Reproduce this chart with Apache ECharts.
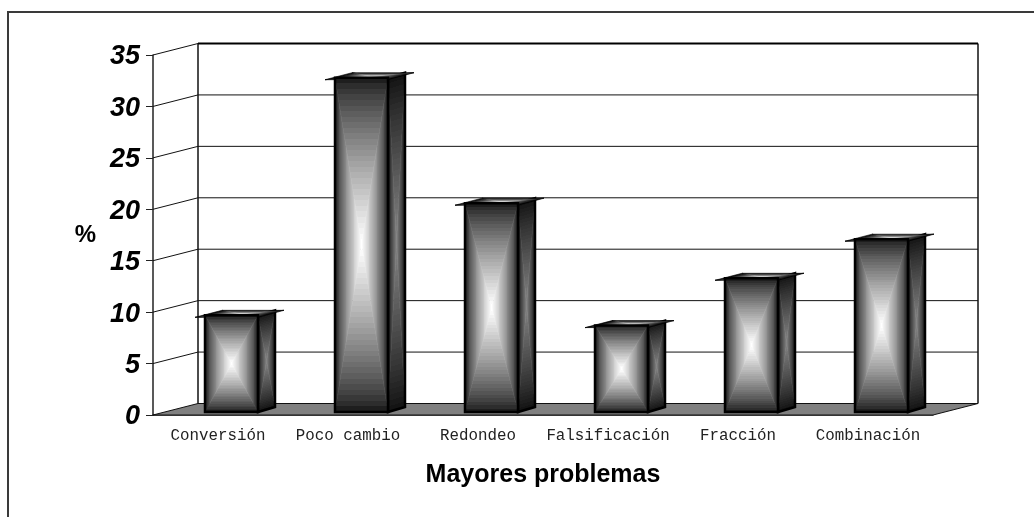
<!DOCTYPE html>
<html>
<head>
<meta charset="utf-8">
<style>html,body{margin:0;padding:0;background:#fff}#c{width:1034px;height:517px}</style>
<script src="https://cdn.jsdelivr.net/npm/echarts@6/dist/echarts.min.js"></script>
</head>
<body>
<div id="c"></div>
<script>
// Survey results: share of respondents per reported problem
const categories = ['Conversión', 'Poco cambio', 'Redondeo', 'Falsificación', 'Fracción', 'Combinación'];
const percentages = [9.4, 32.5, 20.3, 8.4, 13, 16.8];
const yTicks = [0, 5, 10, 15, 20, 25, 30, 35];

// Oblique projection of the 3D box
const wallDx = 45, wallDy = -11.5;
const barWidth = 53, barShift = 13.5, barLift = 3;
const sideDx = 17, sideDy = -5;

// Banded gradient from an edge colour to a centre colour
function banded(x1, y1, x2, y2, edge, centre, gamma) {
  const steps = 30, stops = [];
  for (let i = 0; i < steps; i++) {
    const t = i / (steps - 1);
    const v = Math.round(edge + (centre - edge) * Math.pow(t, gamma));
    const c = 'rgb(' + v + ',' + v + ',' + v + ')';
    stops.push({ offset: i / steps, color: c }, { offset: (i + 1) / steps, color: c });
  }
  return new echarts.graphic.LinearGradient(x1, y1, x2, y2, stops, true);
}

// Fill a quad with four triangles shading from each edge to the centre.
// The gradient runs along the normal of the edge, so its bands stay
// parallel to that edge on skewed faces too.
function gatherQuad(pts, edge, centre, gamma) {
  const cx = (pts[0][0] + pts[1][0] + pts[2][0] + pts[3][0]) / 4;
  const cy = (pts[0][1] + pts[1][1] + pts[2][1] + pts[3][1]) / 4;
  const out = [];
  for (let i = 0; i < 4; i++) {
    const a = pts[i], b = pts[(i + 1) % 4];
    const ex = b[0] - a[0], ey = b[1] - a[1];
    const k = ((cx - a[0]) * ex + (cy - a[1]) * ey) / (ex * ex + ey * ey);
    const g = banded(a[0] + ex * k, a[1] + ey * k, cx, cy, edge, centre, gamma);
    out.push({
      type: 'polygon',
      shape: { points: [a, b, [cx, cy]] },
      style: { fill: g, stroke: g, lineWidth: 0.6 }
    });
  }
  return out;
}

function renderWall(params, api) {
  const box = params.coordSys;
  const y = api.coord([0, api.value(1)])[1];
  const x0 = box.x, x1 = box.x + box.width;
  const tick = api.value(1);
  const children = [];
  if (tick === 0) {
    children.push({
      type: 'polygon',
      shape: { points: [[x0, y], [x1, y], [x1 + wallDx, y + wallDy], [x0 + wallDx, y + wallDy]] },
      style: { fill: '#808080', stroke: '#111', lineWidth: 1 }
    });
    children.push({
      type: 'line',
      shape: { x1: x0 + wallDx, y1: y + wallDy, x2: x0 + wallDx, y2: box.y + wallDy },
      style: { stroke: '#111', lineWidth: 1.5 }
    });
    children.push({
      type: 'line',
      shape: { x1: x1 + wallDx, y1: y + wallDy, x2: x1 + wallDx, y2: box.y + wallDy },
      style: { stroke: '#111', lineWidth: 1.5 }
    });
  } else {
    children.push({
      type: 'polyline',
      shape: { points: [[x0, y], [x0 + wallDx, y + wallDy], [x1 + wallDx, y + wallDy]] },
      style: { fill: 'none', stroke: '#111', lineWidth: 1 }
    });
    if (tick === yTicks[yTicks.length - 1]) {
      children.push({
        type: 'line',
        shape: { x1: x0 + wallDx, y1: y + wallDy, x2: x1 + wallDx, y2: y + wallDy },
        style: { stroke: '#000', lineWidth: 2 }
      });
    }
  }
  return { type: 'group', children };
}

function renderBar(params, api) {
  const i = api.value(0);
  const centre = api.coord([i, 0])[0] + barShift;
  const base = api.coord([i, 0])[1] - barLift;
  const top = api.coord([i, api.value(1)])[1] - barLift;
  const l = centre - barWidth / 2, r = centre + barWidth / 2;

  const front = [[l, top], [r, top], [r, base], [l, base]];
  const side = [[r, top], [r + sideDx, top + sideDy], [r + sideDx, base + sideDy], [r, base]];
  const cap = [[l - 10, top + 2], [r, top + 2], [r + 26, top - 5], [l + 17, top - 5]];

  const outline = { fill: 'none', stroke: '#000', lineWidth: 2.5, lineJoin: 'miter' };
  const children = []
    .concat(gatherQuad(side, 20, 130, 0.9))
    .concat([{ type: 'polygon', shape: { points: side }, style: outline }])
    .concat(gatherQuad(cap, 0, 215, 1))
    .concat(gatherQuad(front, 30, 255, 0.8))
    .concat([{ type: 'polygon', shape: { points: front }, style: outline }]);
  return { type: 'group', children };
}

const chart = echarts.init(document.getElementById('c'), null, { renderer: 'canvas' });
chart.setOption({
  animation: false,
  backgroundColor: '#fff',
  grid: { left: 153, top: 55, width: 780, height: 360, containLabel: false },
  graphic: [
    { type: 'polyline', z: 0, shape: { points: [[8, 517], [8, 12], [1034, 12]] },
      style: { fill: 'none', stroke: '#3a3a3a', lineWidth: 2 } }
  ],
  xAxis: {
    type: 'category',
    data: categories,
    name: 'Mayores problemas',
    nameLocation: 'middle',
    nameGap: 48,
    nameTextStyle: { fontFamily: 'Liberation Sans', fontWeight: 'bold', fontSize: 25, color: '#000' },
    axisLine: { lineStyle: { color: '#222', width: 1.5 } },
    axisTick: { alignWithLabel: false, length: 7, lineStyle: { color: '#222', width: 1 } },
    axisLabel: { interval: 0, margin: 13, fontFamily: 'Liberation Mono', fontSize: 15.8, color: '#222' },
    splitLine: { show: false }
  },
  yAxis: {
    type: 'value',
    min: 0,
    max: 35,
    interval: 5,
    name: '%',
    nameLocation: 'middle',
    nameRotate: 0,
    nameGap: 57,
    nameTextStyle: { fontFamily: 'Liberation Sans', fontWeight: 'bold', fontSize: 24, color: '#000', padding: [4, 0, 0, 0] },
    axisLine: { show: true, onZero: false, lineStyle: { color: '#222', width: 1.5 } },
    axisTick: { show: true, length: 7, lineStyle: { color: '#222', width: 1 } },
    axisLabel: {
      margin: 13,
      formatter: function (v) { return '{n|' + v + '}'; },
      rich: {
        n: {
          padding: [4, 0, 0, 0],
          fontFamily: 'Liberation Sans',
          fontStyle: 'italic',
          fontWeight: 'bold',
          fontSize: 27,
          color: '#000'
        }
      }
    },
    splitLine: { show: false }
  },
  series: [
    {
      type: 'custom',
      z: 1,
      clip: false,
      silent: true,
      renderItem: renderWall,
      encode: { x: 0, y: 1 },
      data: yTicks.map(function (t) { return [0, t]; })
    },
    {
      type: 'custom',
      z: 2,
      clip: false,
      silent: true,
      renderItem: renderBar,
      encode: { x: 0, y: 1 },
      data: percentages.map(function (v, i) { return [i, v]; })
    }
  ]
});
</script>
</body>
</html>
